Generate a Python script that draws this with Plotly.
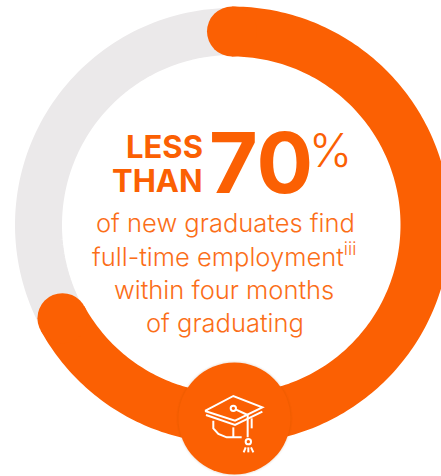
import numpy as np
import plotly.graph_objects as go

# Headline figure and ring values (percent of the full circle)
employed_share = 67
full_share = 100
badge_position = 49.8
headline = ["LESS", "THAN"]
headline_number = "70"
body_lines = [
    "of new graduates find",
    "full-time employment<sup>iii</sup>",
    "within four months",
    "of graduating",
]

ORANGE = "#FB6003"
BODY_ORANGE = "#FB6E18"
GREY = "#EBE9EA"
FONT = "Inter"

W, H = 441, 476
CX, CY = 232, 225          # ring centre in pixels
RING_R = 193.5             # ring mid-line radius in pixels


def ring_xy(shares):
    # Unit-circle position for a share of the ring, clockwise from 12 o'clock
    angle = np.radians(np.asarray(shares, dtype=float) * 3.6)
    return np.sin(angle), np.cos(angle)


def arc(share):
    return np.linspace(0, share, 240)


def add_dots(shares, size, color):
    x, y = ring_xy(shares)
    fig.add_trace(go.Scatter(
        x=x, y=y, mode="markers", hoverinfo="skip",
        marker=dict(color=color, size=size, line=dict(width=0)),
    ))


fig = go.Figure()

# Background track
x, y = ring_xy(arc(full_share))
fig.add_trace(go.Scatter(x=x, y=y, mode="lines", hoverinfo="skip",
                         line=dict(color=GREY, width=47, simplify=False)))

# Value arc, with round ends from two markers
x, y = ring_xy(arc(employed_share))
fig.add_trace(go.Scatter(x=x, y=y, mode="lines", hoverinfo="skip",
                         line=dict(color=ORANGE, width=50, simplify=False)))
add_dots([0, employed_share], 50, ORANGE)

# Soft halo and badge disc at the bottom of the ring
for size, alpha in [(116, 0.03), (114, 0.05)]:
    add_dots([badge_position], size, f"rgba(130,50,0,{alpha})")
add_dots([badge_position], 112, ORANGE)


def px(points):
    # Icon outline points are given on a local grid, 3 units per pixel
    return " ".join(
        ("M" if i == 0 else "L") + f"{(170 + x / 3) / W:.4f},{1 - (350 + y / 3) / H:.4f}"
        for i, (x, y) in enumerate(points)
    )


# Graduation cap icon
icon_paths = [
    [(105, 183), (190, 138), (277, 172), (195, 212), (105, 183)],
    [(108, 195), (195, 225), (277, 185)],
    [(130, 212), (130, 235), (145, 252), (170, 262), (215, 262)],
    [(190, 232), (190, 262)],
    [(190, 175), (233, 195), (233, 262)],
    [(245, 205), (245, 235)],
    [(221, 307), (227, 292)],
    [(235, 307), (235, 292)],
    [(250, 307), (243, 292)],
]
shapes = [
    dict(type="path", xref="paper", yref="paper", path=px(p),
         line=dict(color="white", width=2), fillcolor="rgba(0,0,0,0)")
    for p in icon_paths
]
for (x0, y0, r) in [(190, 175, 8), (235, 275, 8)]:
    shapes.append(dict(
        type="circle", xref="paper", yref="paper",
        x0=(170 + (x0 - r) / 3) / W, x1=(170 + (x0 + r) / 3) / W,
        y0=1 - (350 + (y0 - r) / 3) / H, y1=1 - (350 + (y0 + r) / 3) / H,
        line=dict(color="white", width=2), fillcolor=ORANGE,
    ))

# Text blocks
annotations = []


def label(text, x, y, size, anchor, weight=400, color=ORANGE):
    annotations.append(dict(
        text=text, x=x / W, y=1 - y / H, xref="paper", yref="paper", showarrow=False,
        xanchor=anchor, yanchor="middle", borderpad=0, borderwidth=0,
        font=dict(family=FONT, size=size, color=color, weight=weight),
    ))


label(headline[0], 203, 146, 31, "right", 700)
label(headline[1], 203, 180, 31, "right", 700)
label(headline_number, 209, 162, 84, "left", 700)
label("%", 309, 150, 46, "left", 350)
for text, y, cx in zip(body_lines, [222, 255, 289, 322], [225, 224, 224, 224.5]):
    label(text, cx, y, 25.5, "center", 300, BODY_ORANGE)

fig.update_layout(
    width=W, height=H, autosize=False,
    margin=dict(l=0, r=0, t=0, b=0),
    paper_bgcolor="white", plot_bgcolor="rgba(0,0,0,0)",
    showlegend=False,
    xaxis=dict(range=[-CX / RING_R, (W - CX) / RING_R], visible=False, fixedrange=True),
    yaxis=dict(range=[-(H - CY) / RING_R, CY / RING_R], visible=False, fixedrange=True),
    shapes=shapes,
    annotations=annotations,
)

fig.write_html("out.html", config=dict(displayModeBar=False))
